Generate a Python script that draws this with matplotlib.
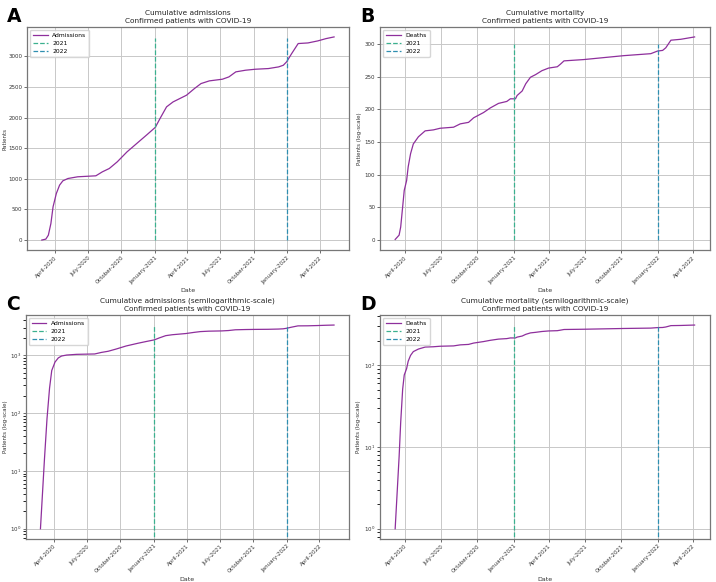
import pandas as pd
import matplotlib
matplotlib.use("Agg")
from matplotlib import pyplot as plt
import matplotlib.dates as mdates

# cumulative admissions
adm_dates = ["2020-02-25", "2020-03-07", "2020-03-14", "2020-03-21", "2020-03-27", "2020-04-05",
             "2020-04-14", "2020-04-23", "2020-05-07", "2020-06-03", "2020-07-23", "2020-08-10",
             "2020-08-29", "2020-09-20", "2020-10-17", "2020-11-18", "2020-12-11", "2021-01-03",
             "2021-01-16", "2021-02-03", "2021-02-21", "2021-03-30", "2021-04-21", "2021-05-09",
             "2021-06-01", "2021-07-07", "2021-07-25", "2021-08-13", "2021-09-09", "2021-10-06",
             "2021-11-11", "2021-12-09", "2021-12-22", "2021-12-31", "2022-01-14", "2022-02-01",
             "2022-02-28", "2022-03-27", "2022-04-19", "2022-05-11"]
adm_values = [1, 16, 80, 270, 543, 760,
              897, 967, 1005, 1033, 1049, 1114,
              1168, 1277, 1440, 1603, 1720, 1840,
              1984, 2174, 2255, 2364, 2473, 2554,
              2598, 2625, 2663, 2745, 2772, 2788,
              2799, 2826, 2853, 2908, 3043, 3207,
              3217, 3250, 3288, 3315]

# cumulative deaths
dth_dates = ["2020-03-07", "2020-03-17", "2020-03-21", "2020-03-26", "2020-03-30", "2020-04-05",
             "2020-04-09", "2020-04-15", "2020-04-22", "2020-05-05", "2020-05-22", "2020-06-12",
             "2020-06-29", "2020-08-02", "2020-08-19", "2020-09-09", "2020-09-22", "2020-10-17",
             "2020-11-03", "2020-11-24", "2020-12-15", "2020-12-24", "2021-01-06", "2021-01-10",
             "2021-01-23", "2021-02-01", "2021-02-13", "2021-02-26", "2021-03-14", "2021-03-31",
             "2021-04-22", "2021-04-30", "2021-05-09", "2021-06-28", "2021-08-18", "2021-10-08",
             "2021-12-15", "2022-01-01", "2022-01-14", "2022-01-22", "2022-02-04", "2022-03-01",
             "2022-04-05"]
dth_values = [1, 7.6, 20, 51, 76, 91,
              112, 132, 147, 158, 167, 168.5,
              171, 172.6, 177.7, 180, 187, 195,
              202, 209, 212, 216, 216, 221,
              228, 239, 249, 253, 259, 263,
              265, 269, 274, 276, 279, 282,
              285, 289, 290, 294, 305.6, 307,
              310.6]

year_lines = ["2021-01-01", "2022-01-01"]
year_labels = ["2021", "2022"]
year_colors = ["#3bb08f", "#2f8fb0"]
adm_vmax = 3300
dth_vmax = 300

adm_x = pd.to_datetime(adm_dates)
dth_x = pd.to_datetime(dth_dates)

plt.rcParams["font.family"] = ["DejaVu Sans"]
fig = plt.figure(figsize=(7.16, 5.82), dpi=100)

panels = [
    ("A", [0.038, 0.570, 0.449, 0.384], adm_x, adm_values, "Admissions", adm_vmax, False,
     "Cumulative admissions\nConfirmed patients with COVID-19", "Patients", -0.06),
    ("B", [0.531, 0.570, 0.460, 0.384], dth_x, dth_values, "Deaths", dth_vmax, False,
     "Cumulative mortality\nConfirmed patients with COVID-19", "Patients (log-scale)", None),
    ("C", [0.036, 0.074, 0.451, 0.385], adm_x, adm_values, "Admissions", adm_vmax, True,
     "Cumulative admissions (semilogarithmic-scale)\nConfirmed patients with COVID-19",
     "Patients (log-scale)", -0.055),
    ("D", [0.531, 0.074, 0.460, 0.385], dth_x, dth_values, "Deaths", dth_vmax, True,
     "Cumulative mortality (semilogarithmic-scale)\nConfirmed patients with COVID-19",
     "Patients (log-scale)", None),
]

for letter, pos, x, y, name, vmax, logy, title, ylab, ylab_x in panels:
    ax = fig.add_axes(pos)
    ax.plot(x, y, color="#8e2f9c", lw=0.9, label=name)
    for d, lab, c in zip(year_lines, year_labels, year_colors):
        ax.vlines(pd.Timestamp(d), 0, vmax, colors=c, linestyles="--", lw=0.9, label=lab)
    if logy:
        ax.set_yscale("log")
    ax.xaxis.set_major_locator(mdates.MonthLocator(bymonth=[1, 4, 7, 10]))
    ax.xaxis.set_major_formatter(mdates.DateFormatter("%B-%Y"))
    plt.setp(ax.get_xticklabels(), rotation=45, ha="right", rotation_mode="anchor")
    ax.tick_params(labelsize=4, length=2, width=0.5, colors="#333333", pad=1.5)
    ax.grid(True, color="#c8c8c8", lw=0.7)
    for s in ax.spines.values():
        s.set_color("#777777")
        s.set_linewidth(0.9)
    ax.set_title(title, fontsize=5.3, pad=3, color="#222222", linespacing=1.25)
    ax.set_xlabel("Date", fontsize=4.5, labelpad=2, color="#333333")
    ax.set_ylabel(ylab, fontsize=4.0, labelpad=2, color="#333333")
    # left-hand panels sit close to the figure edge
    if ylab_x is not None:
        ax.yaxis.set_label_coords(ylab_x, 0.5)
    ax.legend(loc="upper left", fontsize=4.3, handlelength=2.4, borderpad=0.5,
              labelspacing=0.5, framealpha=0.8, edgecolor="#cccccc")
    fig.text(pos[0] - 0.028, pos[1] + pos[3] + 0.002, letter, fontsize=13.5, fontweight="bold",
             family=["Liberation Sans Narrow", "DejaVu Sans"], va="bottom")

fig.savefig("out.png", dpi=100)
